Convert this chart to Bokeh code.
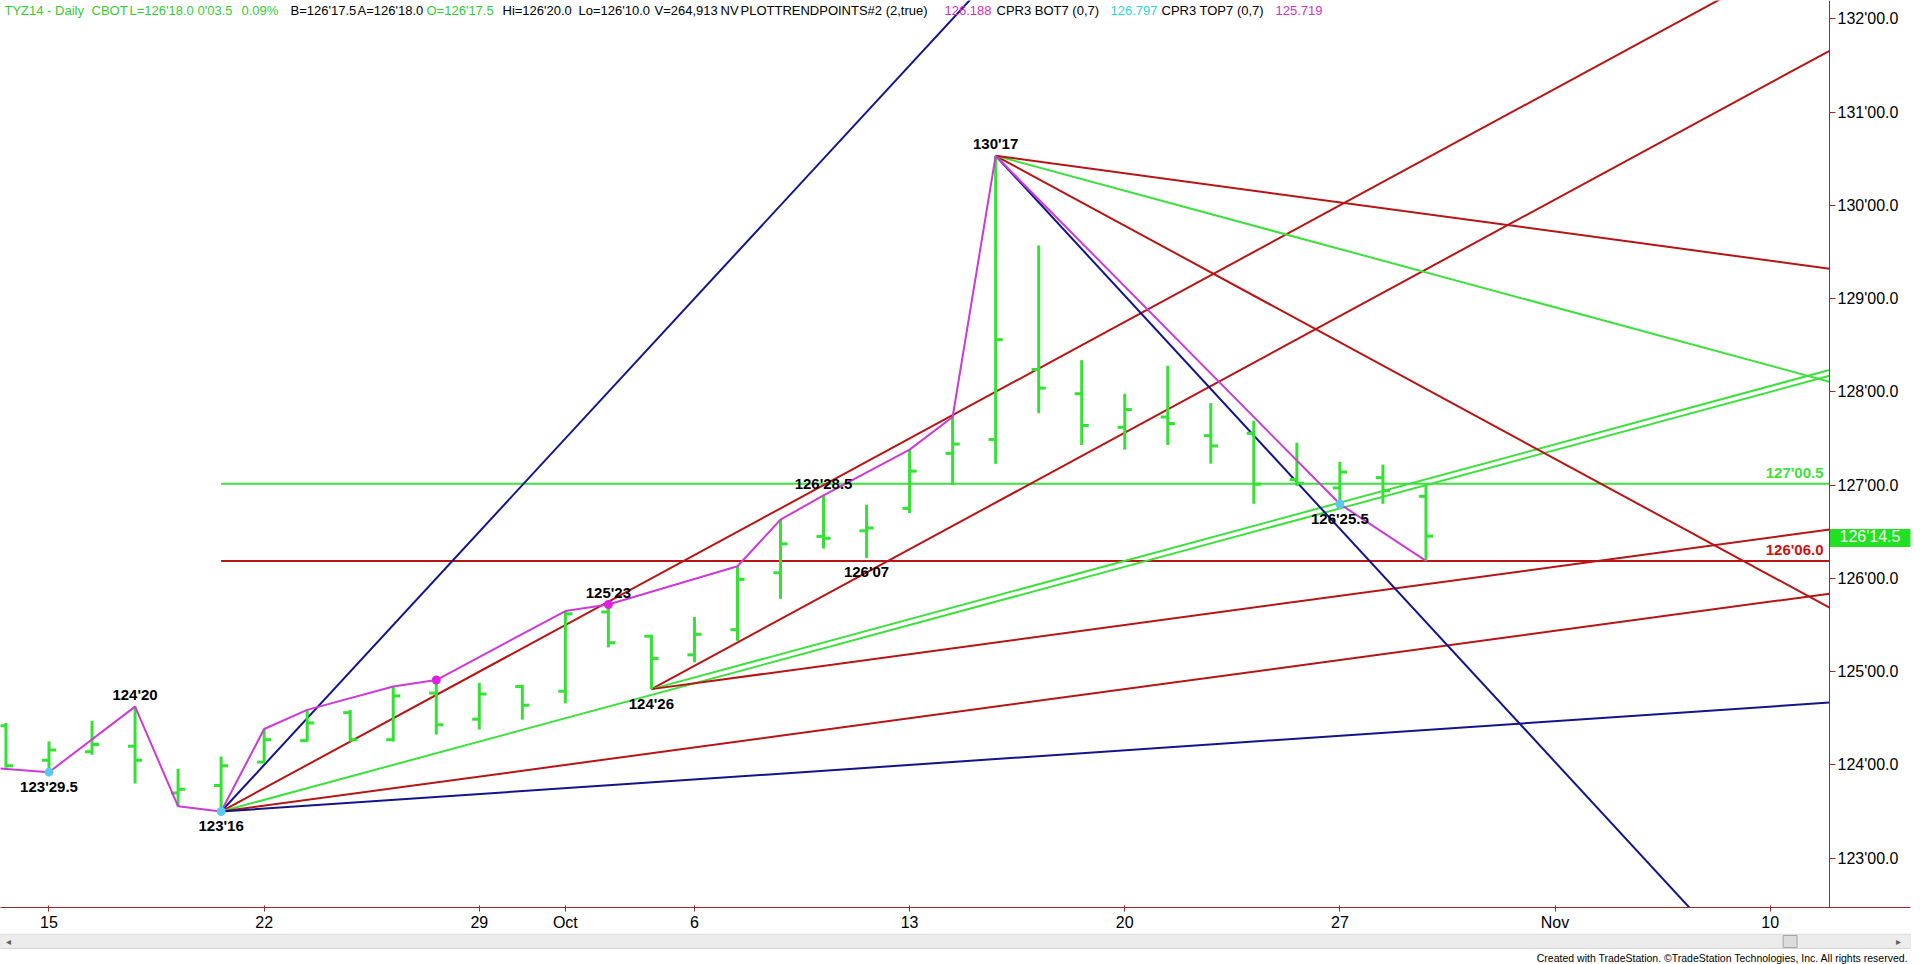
from bokeh.plotting import figure
from bokeh.layouts import column
from bokeh.models import Range1d, FixedTicker, Label
from bokeh.core.properties import value
from bokeh.embed import file_html
from bokeh.resources import INLINE

# ---------------- data ----------------
# bar index = trading day counted from Mon 15 Sep 2014 (index 0); weekends skipped
bar_index = list(range(-1, 33))
bar_open = [124.42, 124.05, 124.14, 124.20, 123.70, 123.78, 124.03, 124.26, 124.56, 124.27,
            124.77, 124.49, 124.84, 124.79, 125.64, 125.38, 125.18, 125.45, 126.06, 126.45,
            126.51, 126.75, 127.34, 127.49, 128.24, 127.98, 127.62, 127.73, 127.53, 127.555,
            127.06, 126.97, 127.08, 126.88]
bar_high = [124.45, 124.25, 124.47, 124.625, 123.96, 124.09, 124.385, 124.59, 124.59, 124.84,
            124.90, 124.88, 124.86, 125.65, 125.72, 125.395, 125.585, 126.13, 126.63, 126.89,
            126.79, 127.38, 127.73, 130.53, 129.57, 128.34, 127.98, 128.28, 127.88, 127.69,
            127.455, 127.25, 127.22, 127.0]
bar_low = [123.97, 123.92, 124.11, 123.80, 123.556, 123.50, 124.02, 124.25, 124.25, 124.25,
           124.325, 124.38, 124.485, 124.66, 125.26, 124.8125, 125.10, 125.33, 125.78, 126.32,
           126.219, 126.70, 127.00, 127.23, 127.77, 127.43, 127.38, 127.43, 127.23, 126.80,
           126.99, 126.797, 126.80, 126.1875]
bar_close = [123.99, 124.16, 124.22, 124.05, 123.74, 123.99, 124.27, 124.45, 124.27, 124.74,
             124.43, 124.76, 124.64, 125.62, 125.31, 125.14, 125.40, 125.99, 126.37, 126.43,
             126.54, 127.15, 127.44, 128.56, 128.04, 127.64, 127.81, 127.66, 127.42, 127.01,
             127.02, 127.14, 126.94, 126.453]

x_ticks = [0, 5, 10, 12, 15, 20, 25, 30, 35, 40]
x_tick_labels = ["15", "22", "29", "Oct", "6", "13", "20", "27", "Nov", "10"]
y_ticks = [123, 124, 125, 126, 127, 128, 129, 130, 131, 132]
y_tick_labels = ["123'00.0", "124'00.0", "125'00.0", "126'00.0", "127'00.0",
                 "128'00.0", "129'00.0", "130'00.0", "131'00.0", "132'00.0"]

# swing (trend point) line
swing_x = [-2, 0, 2, 3, 4, 5, 6, 8, 9, 12, 13, 16, 17, 18, 20, 21, 22, 30, 32]
swing_y = [123.99, 123.922, 124.625, 123.556, 123.5, 124.385, 124.59, 124.84, 124.91, 125.65,
           125.72, 126.13, 126.63, 126.89, 127.38, 127.73, 130.53, 126.797, 126.1875]

low_dot_x = [0, 4, 30]
low_dot_y = [123.922, 123.5, 126.797]
high_dot_x = [9, 13]
high_dot_y = [124.91, 125.72]

pivot_text = ["123'29.5", "124'20", "123'16", "125'23", "124'26", "126'28.5", "126'07", "130'17", "126'25.5"]
pivot_x = [0, 2, 4, 13, 14, 18, 19, 22, 30]
pivot_y = [123.922, 124.625, 123.5, 125.72, 124.8125, 126.89, 126.219, 130.53, 126.797]
pivot_side = [-1, 1, -1, 1, -1, 1, -1, 1, -1]

# fan lines: anchor index, anchor price, slope (price per bar), colour name
fan_anchor_x = [4, 4, 4, 4, 4, 14, 14, 14, 22, 22, 22, 22]
fan_anchor_y = [123.5, 123.5, 123.5, 123.5, 123.5, 124.8125, 124.8125, 124.8125,
                130.53125, 130.53125, 130.53125, 130.53125]
fan_slope = [0.5, 0.25, 0.125, 0.0625, 0.03125, 0.25, 0.125, 0.0625, -0.5, -0.25, -0.125, -0.0625]
fan_kind = ["blue", "red", "green", "red", "blue", "red", "green", "red", "blue", "red", "green", "red"]

level_price = [127.015625, 126.1875]
level_text = ["127'00.5", "126'06.0"]
level_kind = ["green", "red"]
level_start = 4

last_price = 126.453
last_price_text = "126'14.5"

credit = "Created with TradeStation. \u00a9TradeStation Technologies, Inc. All rights reserved."

# ---------------- styling / geometry ----------------
COL = {"blue": "#14148a", "red": "#b81414", "green": "#3ee03e"}
BAR = "#33e233"
MAG = "#cc3ad8"
AX = "#a02828"
FONT = "Liberation Sans"

PX_PER_BAR = 43.03
X0 = -1.1271                 # left edge of chart
AXIS_X = 41.378              # price axis position (right end of the chart area)
FW = 1910                    # frame width in px (right border 10px)
X1 = X0 + FW / PX_PER_BAR
YT, YB = 132.196, 122.4711
FH = 908


def px2x(px):
    return X0 + px * (X1 - X0) / FW


def px2y(py):
    return YT - py * (YT - YB) / FH


p = figure(width=1920, height=933, x_range=Range1d(X0, X1), y_range=Range1d(YB, YT),
           y_axis_location="right", toolbar_location=None, output_backend="svg",
           min_border_left=0, min_border_right=10, min_border_top=0, min_border_bottom=25)
p.outline_line_color = None
p.grid.visible = False
p.background_fill_color = "white"
p.border_fill_color = "white"

# price axis: real axis placed at the chart edge, labels drawn next to it as text
p.yaxis.fixed_location = AXIS_X
p.yaxis.ticker = FixedTicker(ticks=y_ticks)
p.yaxis.major_label_overrides = {t: "" for t in y_ticks}
p.yaxis.axis_line_color = AX
p.yaxis.major_tick_line_color = AX
p.yaxis.minor_tick_line_color = None
p.yaxis.major_tick_out = 6
p.yaxis.major_tick_in = 0
p.yaxis.major_label_standoff = 0

p.xaxis.ticker = FixedTicker(ticks=x_ticks)
p.xaxis.major_label_overrides = {t: l for t, l in zip(x_ticks, x_tick_labels)}
p.xaxis.axis_line_color = AX
p.xaxis.major_tick_line_color = AX
p.xaxis.minor_tick_line_color = None
p.xaxis.major_tick_out = 4
p.xaxis.major_tick_in = 2
p.xaxis.major_label_standoff = 2
p.xaxis.major_label_text_font = FONT
p.xaxis.major_label_text_font_size = "16px"
p.xaxis.major_label_text_color = "black"

# price axis labels
p.text(x=[px2x(1837)] * len(y_ticks), y=y_ticks, text=y_tick_labels, text_align="left",
       text_baseline="middle", text_font=value(FONT), text_font_size="16px", text_color="black")

# last price box
p.quad(left=[px2x(1829.5)], right=[px2x(1918)], bottom=[px2y(547)], top=[px2y(529)],
       fill_color="#22e022", line_color=None)
p.text(x=[px2x(1839)], y=[last_price], text=[last_price_text], text_align="left",
       text_baseline="middle", text_font=value(FONT), text_font_size="16px", text_color="#f4fff4")

# horizontal levels
for lp, lk in zip(level_price, level_kind):
    p.line([level_start, AXIS_X], [lp, lp], line_color=COL[lk], line_width=2)

# fan lines
for ax_, ay_, s, k in zip(fan_anchor_x, fan_anchor_y, fan_slope, fan_kind):
    p.line([ax_, AXIS_X], [ay_, ay_ + s * (AXIS_X - ax_)], line_color=COL[k], line_width=2)

# OHLC bars
w = 0.165
p.segment(x0=bar_index, y0=bar_low, x1=bar_index, y1=bar_high, line_color=BAR, line_width=3)
p.segment(x0=[i - w for i in bar_index], y0=bar_open, x1=bar_index, y1=bar_open,
          line_color=BAR, line_width=3)
p.segment(x0=bar_index, y0=bar_close, x1=[i + w for i in bar_index], y1=bar_close,
          line_color=BAR, line_width=3)

# swing line and dots
p.line(swing_x, swing_y, line_color=MAG, line_width=2)
p.scatter(low_dot_x, low_dot_y, size=9, fill_color="#5cc8f0", line_color=None)
p.scatter(high_dot_x, high_dot_y, size=9, fill_color="#e020e0", line_color=None)

# pivot labels
for t, xx, yy, sd in zip(pivot_text, pivot_x, pivot_y, pivot_side):
    off = 12 if sd > 0 else -14
    p.add_layout(Label(x=xx, y=yy, text=t, y_offset=off, text_align="center",
                       text_baseline="middle", text_font=FONT, text_font_style="bold",
                       text_font_size="15px", text_color="black"))

# level labels
for lp, lt, lk in zip(level_price, level_text, level_kind):
    p.add_layout(Label(x=px2x(1823), y=lp, text=lt, y_offset=11, text_align="right",
                       text_baseline="middle", text_font=FONT, text_font_style="bold",
                       text_font_size="15px", text_color="#d01010" if lk == "red" else COL[lk]))

# header
GH = "#33cc33"
header = [
    (4, "TYZ14 - Daily", GH), (91, "CBOT", GH), (129, "L=126'18.0", GH), (197, "0'03.5", GH),
    (241, "0.09%", GH), (290, "B=126'17.5", "black"), (357, "A=126'18.0", "black"),
    (426, "O=126'17.5", GH), (502, "Hi=126'20.0", "black"), (578, "Lo=126'10.0", "black"),
    (654, "V=264,913", "black"), (720, "NV", "black"), (740, "PLOTTRENDPOINTS#2 (2,true)", "black"),
    (944, "126.188", "#d030c0"), (996, "CPR3 BOT7 (0,7)", "black"), (1110, "126.797", "#30d4d4"),
    (1161, "CPR3 TOP7 (0,7)", "black"), (1275, "125.719", "#d030c0"),
]
for hx, ht, hc in header:
    p.add_layout(Label(x=px2x(hx), y=px2y(10), text=ht, text_align="left", text_baseline="middle",
                       text_font=FONT, text_font_size="13px", text_color=hc))

# ---------------- bottom strip: scroll band + credit ----------------
b = figure(width=1920, height=31, x_range=Range1d(0, 1920), y_range=Range1d(31, 0),
           toolbar_location=None, output_backend="svg", min_border=0,
           x_axis_type=None, y_axis_type=None)
b.outline_line_color = None
b.grid.visible = False
b.background_fill_color = "white"
b.border_fill_color = "white"
b.quad(left=[0], right=[1920], top=[0.5], bottom=[15], fill_color="#ececec", line_color="#d6d6d6")
b.quad(left=[1792], right=[1806], top=[2], bottom=[14], fill_color="#dcdcdc", line_color="#a4a4a4")
b.text(x=[1908, 8], y=[8, 8], text=["\u25b8", "\u25c2"], text_align="center", text_baseline="middle",
       text_font=value(FONT), text_font_size="10px", text_color="#606060")
b.text(x=[1918], y=[24.5], text=[credit], text_align="right", text_baseline="middle",
       text_font=value(FONT), text_font_size="10.5px", text_color="black")

open("out.html", "w").write(file_html(column(p, b), INLINE))
